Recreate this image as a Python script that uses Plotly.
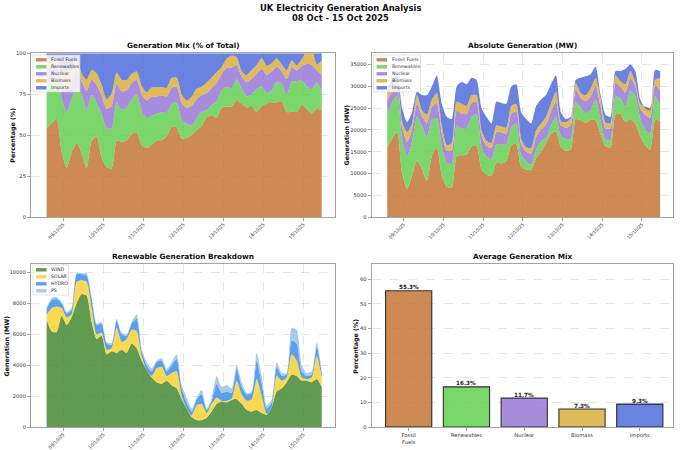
import pandas as pd
import plotly.graph_objects as go

# ---------------- data ----------------
times = pd.date_range("2025-10-08 14:00", periods=56, freq="3h")

fossil = [16000, 18000, 19500, 10000, 6500, 9500, 13000, 11000, 8300, 14000, 16000, 9500, 7000, 6700,
          14000, 14200, 14300, 16200, 16300, 11000, 9700, 9500, 12400, 12300, 12800, 16500, 16700, 11500,
          10900, 10800, 13500, 15000, 17000, 19000, 19700, 16000, 15200, 15500, 22500, 22200, 21600, 22300,
          22200, 19000, 16300, 16000, 23500, 23700, 21800, 22500, 21500, 18500, 16500, 15500, 22300, 22000]
nuclear = [3000, 2500, 2400, 2500, 3300, 2800, 3000, 2300, 3300, 2900, 3500, 3000, 2700, 3100,
           3400, 3500, 3300, 3200, 2800, 2600, 2500, 2500, 2800, 2700, 2600, 3000, 2900, 2500,
           2200, 2600, 3000, 2700, 3000, 3200, 3600, 2400, 2600, 3000, 2800, 2300, 2800, 3100,
           3200, 3100, 2700, 2600, 3100, 2700, 3300, 3000, 2200, 2400, 3400, 3700, 2500, 3500]
biomass = [1750, 1150, 1200, 1400, 2250, 1450, 2000, 1250, 1950, 1700, 2300, 1700, 1300, 1750,
           2100, 2200, 1900, 1800, 1600, 1300, 1100, 1200, 1500, 1350, 1350, 1800, 1700, 1300,
           1000, 1200, 1600, 1400, 1800, 1900, 2200, 1000, 1300, 1700, 1500, 1100, 1400, 1800,
           1800, 1800, 1300, 1200, 1700, 1300, 1900, 1600, 1000, 1100, 1900, 2200, 1200, 2900]
imports = [1000, 1500, 1000, 3000, 2300, 2500, 800, 3500, 4500, 3000, 4000, 5000, 6500, 5500,
           3500, 5000, 5000, 4000, 3500, 5000, 5500, 4500, 5500, 5400, 5500, 4500, 4500, 6000,
           6500, 5700, 5500, 5500, 5000, 4500, 3700, 2000, 700, 300, 700, 3500, 4300, 3300,
           2500, 800, 1800, 1400, 1000, 2300, 3500, 1500, 2500, 1000, -300, -500, 2300, 1500]

wind = [6900, 6200, 6150, 7200, 6600, 7100, 8000, 8600, 8500, 6800, 5700, 5900, 4700, 4900,
        4800, 5000, 4800, 5400, 5100, 4300, 3700, 3200, 2900, 2800, 3000, 2700, 2500, 1800,
        1200, 650, 450, 450, 600, 1000, 1500, 1650, 1600, 1750, 1800, 1500, 1100, 1000,
        1100, 900, 800, 1300, 2300, 2500, 2900, 3400, 3300, 3000, 3000, 2900, 3100, 2600]
solar = [350, 1500, 1650, 500, 500, 200, 1400, 900, 900, 900, 300, 200, 300, 200,
         1600, 500, 900, 900, 1100, 300, 0, 100, 900, 1100, 300, 800, 1100, 200,
         0, 100, 950, 1050, 300, 500, 400, 50, 100, 100, 1200, 600, 600, 800,
         2000, 1100, 50, 0, 1000, 500, 300, 1300, 1000, 200, 100, 300, 1500, 600]
hydro = [400, 500, 500, 300, 250, 300, 500, 400, 400, 600, 600, 600, 400, 200,
         500, 500, 200, 400, 800, 300, 300, 300, 400, 400, 300, 500, 800, 500,
         400, 250, 400, 600, 200, 200, 900, 500, 600, 350, 800, 500, 400, 400,
         1200, 800, 350, 300, 600, 300, 200, 900, 1100, 400, 200, 200, 600, 300]
ps = [100, 150, 100, 100, 100, 150, 100, 50, 150, 100, 100, 100, 100, 150,
      100, 100, 100, 100, 300, 200, 200, 200, 100, 150, 150, 200, 300, 200,
      300, 200, 100, 300, 100, 200, 500, 400, 400, 300, 200, 300, 100, 100,
      500, 500, 200, 200, 300, 200, 100, 800, 900, 400, 200, 200, 300, 100]

gen_names = ["Fossil Fuels", "Renewables", "Nuclear", "Biomass", "Imports"]
ren_names = ["WIND", "SOLAR", "HYDRO", "PS"]
avg_labels = ["Fossil<br>Fuels", "Renewables", "Nuclear", "Biomass", "Imports"]
avg_pct = [55.3, 16.3, 11.7, 7.3, 9.3]

day_ticks = ["2025-10-09", "2025-10-10", "2025-10-11", "2025-10-12", "2025-10-13", "2025-10-14", "2025-10-15"]
day_labels = ["09/10/25", "10/10/25", "11/10/25", "12/10/25", "13/10/25", "14/10/25", "15/10/25"]
pct_ticks = [0, 25, 50, 75, 100]
abs_ticks = [0, 5000, 10000, 15000, 20000, 25000, 30000, 35000]
ren_ticks = [0, 2000, 4000, 6000, 8000, 10000]
bar_ticks = [0, 10, 20, 30, 40, 50, 60]

gen_colors = ["rgba(192,109,42,0.8)", "rgba(90,204,70,0.8)", "rgba(146,111,214,0.8)",
              "rgba(215,170,51,0.8)", "rgba(69,99,216,0.8)"]
ren_colors = ["rgba(58,130,39,0.8)", "rgba(249,206,36,0.8)", "rgba(49,136,236,0.8)",
              "rgba(142,192,226,0.8)"]

# derived series
renew = [w + s + h + p for w, s, h, p in zip(wind, solar, hydro, ps)]
gen_abs = [fossil, renew, nuclear, biomass, imports]
total = [sum(v) for v in zip(*gen_abs)]
gen_pct = [[v / t * 100 for v, t in zip(s, total)] for s in gen_abs]
ren_abs = [wind, solar, hydro, ps]

# ---------------- layout helpers ----------------
W, H = 680, 450
FONT = "DejaVu Sans"


def fx(px):
    return px / W


def fy(py):
    return 1 - py / H


fig = go.Figure()
LINE = dict(width=0, shape="spline", smoothing=0.6)

for name, vals, col in zip(gen_names, gen_pct, gen_colors):
    fig.add_trace(go.Scatter(x=times, y=vals, name=name, stackgroup="pct", mode="lines", line=LINE,
                             fillcolor=col, showlegend=False, xaxis="x", yaxis="y"))
for name, vals, col in zip(gen_names, gen_abs, gen_colors):
    fig.add_trace(go.Scatter(x=times, y=vals, name=name, stackgroup="abs", mode="lines", line=LINE,
                             fillcolor=col, showlegend=False, xaxis="x2", yaxis="y2"))
for name, vals, col in zip(ren_names, ren_abs, ren_colors):
    fig.add_trace(go.Scatter(x=times, y=vals, name=name, stackgroup="ren", mode="lines", line=LINE,
                             fillcolor=col, showlegend=False, xaxis="x3", yaxis="y3"))
fig.add_trace(go.Bar(x=avg_labels, y=avg_pct, width=0.8,
                     marker=dict(color=gen_colors, line=dict(color="rgba(20,20,20,0.85)", width=1.1)),
                     showlegend=False, xaxis="x4", yaxis="y4"))

ax = dict(showline=True, mirror=True, linecolor="#a3a3a3", linewidth=1, ticks="outside", ticklen=3,
          tickwidth=0.8, tickcolor="#a3a3a3", showgrid=True, gridcolor="rgba(150,150,150,0.25)",
          griddash="dash", gridwidth=0.6, zeroline=False, automargin=False,
          tickfont=dict(size=5.2, color="#333333", family=FONT))

xdate = dict(ax, type="date", range=["2025-10-08 04:37", "2025-10-15 18:58"],
             tickvals=day_ticks, ticktext=day_labels, tickangle=-45, ticklabelstandoff=-1,
             tickfont=dict(size=4.6, color="#333333", family=FONT))


def yax(domain, anchor, rng, ticks):
    return dict(ax, domain=domain, anchor=anchor, range=rng, tickvals=ticks,
                ticktext=[str(t) for t in ticks])


dx_l = [fx(31), fx(335)]
dx_r = [fx(371.7), fx(673.3)]
dy_t = [fy(217), fy(53.3)]
dy_b = [fy(427), fy(263.5)]

fig.update_layout(
    width=W, height=H, margin=dict(l=0, r=0, t=0, b=0),
    paper_bgcolor="white", plot_bgcolor="white",
    font=dict(family=FONT, color="#222222"),
    xaxis=dict(xdate, domain=dx_l, anchor="y"),
    yaxis=yax(dy_t, "x", [0, 100], pct_ticks),
    xaxis2=dict(xdate, domain=dx_r, anchor="y2"),
    yaxis2=yax(dy_t, "x2", [0, 37600], abs_ticks),
    xaxis3=dict(xdate, domain=dx_l, anchor="y3"),
    yaxis3=yax(dy_b, "x3", [0, 10580], ren_ticks),
    xaxis4=dict(ax, domain=dx_r, anchor="y4", type="category", range=[-0.64, 4.58], showgrid=False,
                tickfont=dict(size=5.2, color="#333333", family=FONT)),
    yaxis4=yax(dy_b, "x4", [0, max(avg_pct) * 1.2], bar_ticks),
)

ann = []


def text(x, y, s, size, bold=False, angle=0, xanchor="center", yanchor="middle", color="#111111"):
    ann.append(dict(x=fx(x), y=fy(y), xref="paper", yref="paper", text=s, showarrow=False,
                    textangle=angle, xanchor=xanchor, yanchor=yanchor,
                    font=dict(size=size, family=FONT, color=color, weight="bold" if bold else "normal")))


text(340, 8, "UK Electricity Generation Analysis", 8.4, bold=True)
text(340, 18.5, "08 Oct - 15 Oct 2025", 8.4, bold=True)
text(183, 45.5, "Generation Mix (% of Total)", 7.3, bold=True)
text(522, 45.5, "Absolute Generation (MW)", 7.3, bold=True)
text(183, 256, "Renewable Generation Breakdown", 7.3, bold=True)
text(522, 256, "Average Generation Mix", 7.3, bold=True)
text(12.7, 135, "Percentage (%)", 6.3, bold=True, angle=-90)
text(345.5, 135, "Generation (MW)", 6.3, bold=True, angle=-90)
text(5.5, 346, "Generation (MW)", 6.3, bold=True, angle=-90)
text(355.7, 346, "Percentage (%)", 6.3, bold=True, angle=-90)

for lab, v in zip(avg_labels, avg_pct):
    ann.append(dict(x=lab, y=v, xref="x4", yref="y4", text=f"{v:.1f}%", showarrow=False,
                    xanchor="center", yanchor="bottom", yshift=-1.5,
                    font=dict(size=5.7, family=FONT, color="#222222", weight="bold")))

shapes = []


def legend(x0, y0, x1, y1, names, colors):
    shapes.append(dict(type="rect", xref="paper", yref="paper", x0=fx(x0), x1=fx(x1), y0=fy(y1), y1=fy(y0),
                       fillcolor="rgba(255,255,255,0.8)", line=dict(color="#d0d0d0", width=0.6)))
    for i, (n, c) in enumerate(zip(names, colors)):
        yc = y0 + 4.8 + 7 * i
        shapes.append(dict(type="rect", xref="paper", yref="paper", x0=fx(x0 + 3), x1=fx(x0 + 13.5),
                           y0=fy(yc + 1.7), y1=fy(yc - 1.7), fillcolor=c, line=dict(width=0)))
        text(x0 + 16.3, yc, n, 4.7, xanchor="left", color="#333333")


legend(33, 55, 80, 92, gen_names, gen_colors)
legend(373.5, 55, 420.5, 92, gen_names, gen_colors)
legend(33, 265, 68.5, 295, ren_names, ren_colors)

fig.update_layout(annotations=ann, shapes=shapes)
fig.write_html("out.html", config={"displayModeBar": False},
               post_script="document.body.style.margin='0';document.body.style.overflow='hidden';")
